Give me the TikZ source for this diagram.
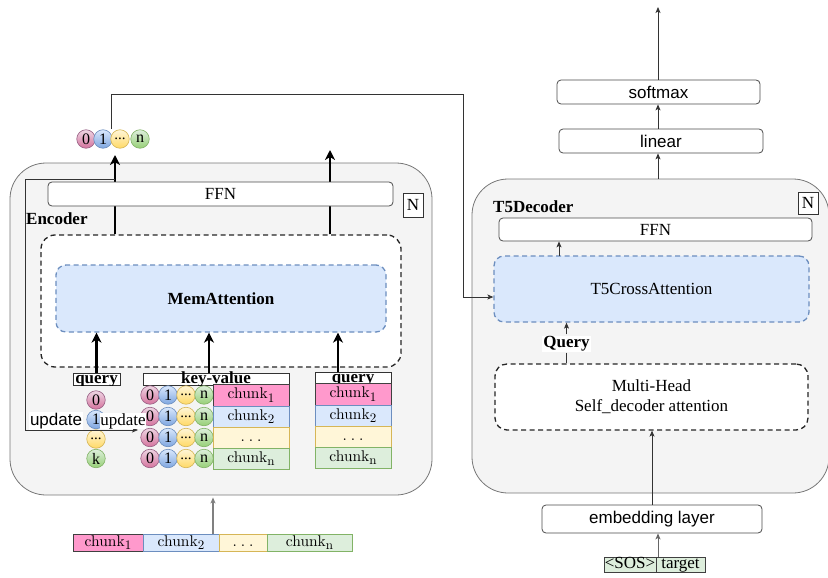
\documentclass[tikz,border=0pt]{standalone}
\usepackage{fontspec}
\setmainfont{Liberation Serif}
\newfontfamily\sansf{Liberation Sans}
\newfontfamily\lmr{lmroman10-regular}[Extension=.otf]
\usetikzlibrary{arrows.meta,calc}
\definecolor{encfill}{HTML}{F4F4F4}
\definecolor{encdraw}{HTML}{777777}
\definecolor{bluefill}{HTML}{DAE8FC}
\definecolor{bluedraw}{HTML}{6C8EBF}
\definecolor{pinkA}{HTML}{EED6E4}
\definecolor{pinkB}{HTML}{D5739D}
\definecolor{pinkD}{HTML}{996185}
\definecolor{blueA}{HTML}{DAE8FC}
\definecolor{blueB}{HTML}{7EA6E0}
\definecolor{yelA}{HTML}{FFF6D8}
\definecolor{yelB}{HTML}{FFD966}
\definecolor{yelD}{HTML}{D6B656}
\definecolor{grnA}{HTML}{DDEEDC}
\definecolor{grnB}{HTML}{97D077}
\definecolor{grnD}{HTML}{82B366}
\definecolor{chunkpink}{HTML}{FF99CC}
\newcommand\chk[1]{{\lmr chunk\raisebox{-3.5pt}{\fontsize{13}{13}\selectfont #1}}}
\newcommand\chdots{{\lmr .\hspace{4pt}.\hspace{4pt}.}}
\tikzset{
  fs/.style={font=\fontsize{17}{20}\selectfont},
  fsb/.style={font=\fontsize{17}{20}\selectfont\bfseries},
  fss/.style={font=\fontsize{17}{20}\selectfont\sansf},
  outerbox/.style={draw=encdraw, fill=encfill, rounded corners=36pt, line width=0.8pt},
  wbox/.style={draw=black!70, fill=white, rounded corners=4pt, line width=0.8pt, inner sep=0pt},
  nbox/.style={draw=black!80, fill=white, line width=0.8pt, inner sep=0pt, fs},
  blkdash/.style={draw=black!85, fill=white, rounded corners=14pt, line width=1.3pt, dash pattern=on 5pt off 3.5pt, inner sep=0pt},
  bluedash/.style={draw=bluedraw, fill=bluefill, rounded corners=10pt, line width=1.3pt, dash pattern=on 5pt off 3.5pt, inner sep=0pt},
  thickarrow/.style={line width=2.3pt, -{Stealth[length=10pt,width=10pt,inset=3pt]}},
  thinarrow/.style={line width=0.8pt, -{Stealth[length=6pt,width=5pt,inset=1.5pt]}},
  thinline/.style={line width=0.8pt, draw=black!80},
  circ/.style={circle, minimum size=18.5pt, inner sep=0pt, line width=0.6pt, font=\fontsize{16}{16}\selectfont},
  cpink/.style={circ, draw=pinkD, top color=pinkA, bottom color=pinkB},
  cblue/.style={circ, draw=bluedraw, top color=blueA, bottom color=blueB},
  cyel/.style={circ, draw=yelD, top color=yelA, bottom color=yelB, font=\fontsize{15}{15}\selectfont},
  cgrn/.style={circ, draw=grnD, top color=grnA, bottom color=grnB},
  ckbox/.style={inner sep=0pt, line width=0.8pt, font=\fontsize{15.5}{16}\selectfont, text height=10pt, text depth=3pt},
  ck1/.style={ckbox, draw=black!75, fill=chunkpink},
  ck2/.style={ckbox, draw=bluedraw, fill=bluefill},
  ck3/.style={ckbox, draw=yelD, fill=yelA},
  ck4/.style={ckbox, draw=grnD, fill=grnA},
  hdr/.style={draw=black!80, fill=white, line width=0.8pt, inner sep=0pt},
}
\begin{document}
\begin{tikzpicture}[x=1pt,y=-1pt]
\useasboundingbox (0,0) rectangle (828,578);

% ---------------- Encoder ----------------
\node[outerbox, minimum width=422pt, minimum height=332pt] (enc) at (221,329) {};
\node[outerbox, minimum width=357pt, minimum height=314pt] (dec) at (650.5,336) {};

\node[blkdash, minimum width=360pt, minimum height=132pt] (dash) at (221,301) {};
\coordinate (upL) at (115,155);
\coordinate (upR) at (330,150);
\draw[thickarrow] (dash.north -| upL) -- (upL);
\draw[thickarrow] (dash.north -| upR) -- (upR);
\node[wbox, fs, minimum width=345pt, minimum height=24pt] (effn) at (220.5,194) {FFN};
\node[nbox, minimum width=20pt, minimum height=24pt] (encN) at (413,205) {N};
\node[fsb, anchor=west, inner sep=0pt] (enclab) at (26,219) {Encoder};
\node[bluedash, fsb, minimum width=330pt, minimum height=67pt] (mem) at (221,298.5) {MemAttention};

% headers
\node[hdr, minimum width=47pt, minimum height=12pt] (qh) at (96.5,379) {};
\node[hdr, minimum width=146pt, minimum height=12pt] (kvh) at (216,379) {};
\node[hdr, minimum width=76pt, minimum height=11pt] (rqh) at (353,377.5) {};
\begin{scope}
  \clip (qh.south west) rectangle ([yshift=2pt]qh.north east);
  \node[fsb, anchor=base, inner sep=0pt] at ([yshift=1.5pt]qh.south) {query};
\end{scope}
\begin{scope}
  \clip (kvh.south west) rectangle ([yshift=2pt]kvh.north east);
  \node[fsb, anchor=base, inner sep=0pt] at ([yshift=1.5pt]kvh.south) {key-value};
\end{scope}
\begin{scope}
  \clip (rqh.south west) rectangle ([yshift=2pt]rqh.north east);
  \node[fsb, anchor=base, inner sep=0pt] at ([yshift=1pt]rqh.south) {query};
\end{scope}

\draw[thickarrow] (qh.north) -- (qh.north |- mem.south);
\draw[thickarrow] (209,373) coordinate (kvtop) -- (kvtop |- mem.south);
\draw[thickarrow] (338,372) coordinate (rqtop) -- (rqtop |- mem.south);

% left query circles
\node[cpink] (q0) at (96,400) {0};
\node[cblue] (q1) at (96,419.5) {1};
\node[cyel] (q2) at (96,439) {...};
\node[cgrn] (q3) at (96,458.5) {k};

% key-value circles
\foreach \r/\y in {1/395,2/416.5,3/437.5,4/458.5}{
  \node[cpink] (kv\r a) at (150,\y) {0};
  \node[cblue] (kv\r b) at (168,\y) {1};
  \node[cyel] (kv\r c) at (186,\y) {...};
  \node[cgrn] (kv\r d) at (204,\y) {n};
}
% key-value chunks
\node[ck1, minimum width=76pt, minimum height=22pt] (kc1) at (251,395) {\chk{1}};
\node[ck2, minimum width=76pt, minimum height=21pt] (kc2) at (251,416.5) {\chk{2}};
\node[ck3, minimum width=76pt, minimum height=21pt] (kc3) at (251,437.5) {\chdots};
\node[ck4, minimum width=76pt, minimum height=21pt] (kc4) at (251,458.5) {\chk{n}};
% right query chunks
\node[ck1, minimum width=76pt, minimum height=22pt] (rc1) at (353,394) {\chk{1}};
\node[ck2, minimum width=76pt, minimum height=21pt] (rc2) at (353,415.5) {\chk{2}};
\node[ck3, minimum width=76pt, minimum height=21pt] (rc3) at (353,436.5) {\chdots};
\node[ck4, minimum width=76pt, minimum height=21pt] (rc4) at (353,457.5) {\chk{n}};

% update path
\coordinate (updstart) at (115,179);
\coordinate (updcorner) at (25,179);
\coordinate (updend) at (138,430);
\draw[thinline, thinarrow] (updstart) -- (updcorner) |- (updend);
\node[fss, fill=white, inner sep=1pt] (upd1) at (56,421) {update};
\node[fs, fill=white, inner sep=0.5pt] (upd2) at (123,421) {update};

% top output circles
\node[cpink] (t0) at (86,139) {0};
\node[cblue] (t1) at (103,139) {1};
\node[cyel] (t2) at (120,139) {...};
\node[cgrn] (t3) at (140,139) {n};

% input chunks
\node[ck1, minimum width=70pt, minimum height=17pt] (b1) at (108,542.5) {\chk{1}};
\node[ck2, minimum width=76pt, minimum height=17pt] (b2) at (181,542.5) {\chk{2}};
\node[ck3, minimum width=48pt, minimum height=17pt] (b3) at (243,542.5) {\chdots};
\node[ck4, minimum width=85pt, minimum height=17pt] (b4) at (309.5,542.5) {\chk{n}};
\coordinate (inx) at (213,534);
\draw[line width=1.2pt, draw=black!50, -{Stealth[length=6pt,width=5pt,inset=1.5pt]}] (inx) -- ([yshift=-2pt]inx |- enc.south);

% ---------------- Decoder ----------------
\node[fsb, anchor=west, inner sep=0pt] (declab) at (493,207) {T5Decoder};
\node[nbox, minimum width=20pt, minimum height=22pt] (decN) at (808,203) {N};
\node[wbox, fs, minimum width=313pt, minimum height=23pt] (dffn) at (655.5,229.5) {FFN};
\node[bluedash, fs, minimum width=315pt, minimum height=66pt] (cross) at (651.5,289) {T5CrossAttention};
\node[blkdash, fs, align=center, minimum width=313pt, minimum height=66pt, rounded corners=12pt] (multi) at (651.5,397) {Multi-Head\\Self\_decoder attention};
\node[fsb, fill=white, inner sep=1pt] (query) at (566.5,344) {Query};
\draw[thinline] (query.south) -- (query.south |- multi.north);
\draw[thinline, thinarrow] ([yshift=1pt]query.north) -- (query.north |- cross.south);
\coordinate (crx) at (559,256);
\draw[thinline, thinarrow] (crx) -- (crx |- dffn.south);

\node[wbox, fss, minimum width=220pt, minimum height=28pt] (emb) at (652,519) {embedding layer};
\draw[thinline, thinarrow] (emb.north) -- (emb.north |- multi.south);
\node[ck4, draw=black!75, font=\fontsize{17}{17}\selectfont, text height=11pt, text depth=3pt, minimum width=52pt, minimum height=15pt] (sos) at (630,564.5) {<SOS>};
\node[ck4, draw=black!75, font=\fontsize{17}{17}\selectfont, text height=11pt, text depth=3pt, minimum width=49pt, minimum height=15pt] (tgt) at (680.5,564.5) {target};
\coordinate (sx) at (658,557);
\draw[line width=1pt, draw=black!60, -{Stealth[length=6pt,width=5pt,inset=1.5pt]}] (sx) -- (sx |- emb.south);

\node[wbox, fss, minimum width=204pt, minimum height=24pt] (linear) at (661,141) {linear};
\node[wbox, fss, minimum width=203pt, minimum height=24pt] (soft) at (658.5,92) {softmax};
\coordinate (ox) at (658,7);
\draw[thinline, thinarrow] (ox |- dec.north) -- (ox |- linear.south);
\draw[thinline, thinarrow] (ox |- linear.north) -- (ox |- soft.south);
\draw[thinline, thinarrow] (ox |- soft.north) -- (ox);

% encoder output to decoder cross attention
\coordinate (oc) at (111,129);
\coordinate (ocTop) at (111,94);
\coordinate (ocRight) at (463,94);
\draw[thinline, thinarrow] (oc) -- (ocTop) -- (ocRight) |- ([yshift=-8pt]cross.west);
\end{tikzpicture}
\end{document}
